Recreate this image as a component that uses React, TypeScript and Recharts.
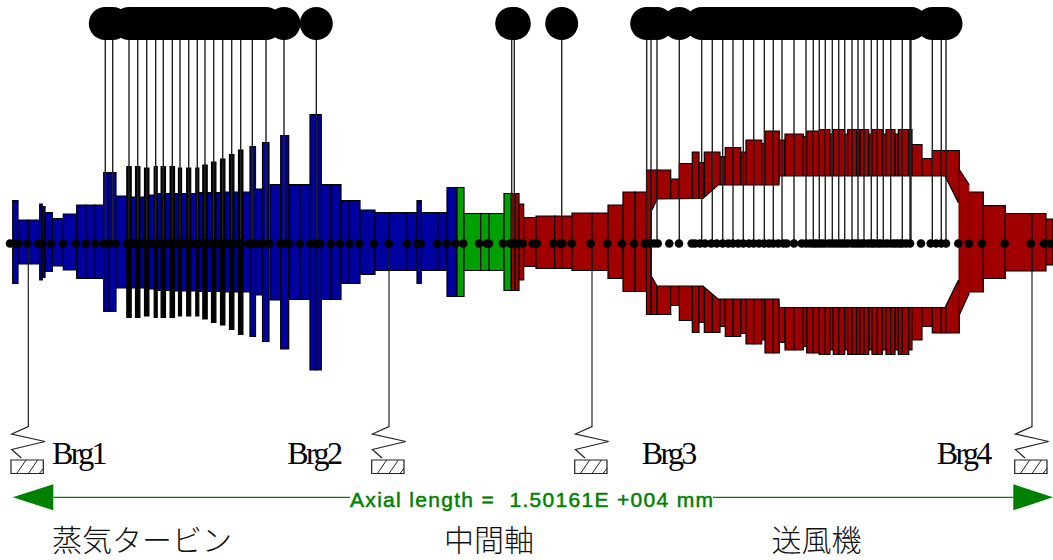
import React from 'react';
import { ComposedChart, XAxis, YAxis, Area, Line, Scatter, ReferenceArea } from 'recharts';

type Sec = [number, number, number, number]; // axial start, axial end, outer radius up, outer radius down

const blueSections: Sec[] = [
  [12.7,18,43,-40],[18,28.3,23.5,-20.5],[28.3,39.7,23.5,-20.5],[39.7,42.3,39.5,-36.5],[42.3,45,37,-34],
  [45,52.3,31,-28],[52.3,63.3,25,-22.5],[63.3,76.7,29.5,-26.5],[76.7,86,38.5,-35],[86,95.3,38.5,-35],
  [95.3,103.7,38.5,-35],[103.7,109.3,71,-68],[109.3,116,71,-68],[116,129,47.5,-44.5],[129,146,46.5,-44.5],
  [146,155,48.5,-45.5],[155,172,50,-47],[172,197,50,-47.5],[197,222,51,-48],[222,250,51.5,-48.5],
  [255,262,54.5,-51.5],[270,282,59,-56.5],[289,300,59,-56],[300,310,59,-56],[321.3,331,59,-56],[331,341,59,-56],
  [341,349.3,43,-40],[349.3,360,43,-40],[360,375,33.5,-31],[375,389.3,31,-27],[389.3,407.3,31,-27],
  [407.3,438,31,-27],[438,447,31,-27],[447,457,56,-53],
];
const blueDisks: Sec[] = [
  [417,421.3,43,-40],[250,255.5,97,-93],[262.5,269,101,-98],[280.7,288.7,108,-105.5],[310,316,129,-126.5],[316,321.3,129,-126.5],
];
const darkBlades: Sec[] = [
  [126.8,131.2,77,-74],[135.5,139.9,77,-74],[144.5,148.9,75.5,-72.5],[154.2,157.2,77,-74],[161.1,165.5,77,-74],
  [170.1,174.5,77,-74],[178.5,181.5,75.5,-72.5],[186.7,190.7,75.5,-72.5],[195.8,198.8,75.5,-72.5],[202.8,207.2,78.5,-75.5],
  [211.5,215.9,81.5,-79],[220.5,224.9,84.5,-81.5],[229.5,233.9,89,-86],[238.5,242.9,93.5,-91],
];
const greenSections: Sec[] = [
  [457,464,56,-53],[464,480.7,30,-27],[480.7,489.3,30,-27],[489.3,504,30,-27],[504,511.3,50,-47],
];
const redSections: Sec[] = [
  [511.3,515,50,-47],[515,519,50,-47],[519,523.7,39.5,-36.5],[523.7,536,26,-23],[536,554.7,27.5,-25],
  [554.7,561.7,27.5,-25],[561.7,572,27.5,-25],[572,592,30.5,-27],[592,608,30.5,-27],[608,623,38.5,-35],
  [623,635,51.5,-48],[635,646.5,51.5,-48],[646.5,651,73.5,-71],[651,657,73.5,-71],[657,670.7,73.5,-71],
  [670.7,679.3,64.5,-62],[679.3,692.3,80,-77],[692.3,699,91.5,-89],[699,704.3,81,-79],[704.3,712.3,91.5,-89],
  [712.3,720,91.5,-89],[720,725.3,87,-83],[725.3,733,96,-93],[733,740.7,96,-93],[740.7,746,91.5,-90],
  [746,753.7,103.5,-100.5],[753.7,761.7,103.5,-100.5],[761.7,765,100,-96.5],[765,773.3,112.5,-109.5],[773.3,779.3,112.5,-109.5],
  [779.3,785,103.5,-99],[785,794,109.5,-106.5],[794,803.3,109.5,-106.5],[803.3,806.7,107,-103],[806.7,813.3,112.5,-109.5],
  [813.3,819.3,112.5,-109.5],[819.3,825.3,114,-111],[825.3,830,114,-111],[830,833.3,109.5,-106.5],[833.3,838.7,114,-111],
  [838.7,844.7,114,-111],[844.7,847.7,109.5,-106.5],[847.7,852,114,-111],[852,856.7,114,-111],[856.7,860,114,-111],
  [860,864,114,-111],[864,868.7,114,-111],[868.7,872,109.5,-106.5],[872,877.3,114,-111],[877.3,882.3,114,-111],
  [882.3,886,109.5,-106.5],[886,890.7,114,-111],[890.7,895,114,-111],[895,898.3,109.5,-106.5],[898.3,902.3,114,-111],
  [902.3,908.7,114,-111],[908.7,912,114,-106.5],[912,922,99,-96.5],[922,932.3,85,-83],[932.3,941.3,93,-89.5],
  [941.3,946,93,-89.5],[946,959.3,93,-89.5],[969.3,983.3,51.5,-48.5],[983.3,1005.3,37.8,-35],[1005.3,1032,30,-27.5],
  [1032,1046,30,-27.5],[1046,1053,24.5,-21.5],
];
const coneX = [959.3, 969.3];
const coneHi = [74, 58.5];
const coneLo = [-71.5, -49.5];

const cavityX = [652, 657, 703, 718, 779, 779.3, 945, 958.5];
const cavityHi = [33.5, 44.5, 45, 58.5, 58.5, 67.5, 67.5, 40.5];
const cavityLo = [-33.5, -42.5, -42.5, -55.5, -55.5, -64, -64, -36.5];

const stations = [
  105.3,112.7,129,137.7,146.7,155.7,163.3,172.3,180,188.7,197.3,205,213.7,222.7,231.7,240.7,252.3,266,284,316.3,
  511.7,514.3,561.7,646.7,651,657,679.3,
  701.7,712.3,722.7,733,743.3,753.7,764.3,773.3,782,794,806,813.3,819.3,825.3,832.3,838.7,844.7,852,858,864,871.3,877.3,883.3,890.7,902.3,910,911,932.3,941.3,946,
];
const stationBands = [[105.3, 112.7], [129, 252.3], [252.3, 266], [701.7, 911], [932.3, 946]];
const massNodes = [
  10,14,18,27.3,38.3,42.3,51,63,76,85.7,95,103.3,108.3,115.7,126.7,129,133,137.7,142,146.7,151,155.7,159.5,163.3,168,172.3,176,180,184,188.7,193,197.3,201,205,209.5,213.7,218,222.7,227,231.7,236,240.7,248,252.3,258,262.3,269.3,280,284,288.7,299.7,310,316,320,330.7,340,
  349.3,359,373.7,388.7,406.7,417.3,420.7,437.3,446.7,455.7,463.3,479,486.7,489,503,510,513.3,517.7,522.7,532.7,536.7,553.3,560,562.3,571.7,590.7,607.3,622,634,645,650,654,657.7,669.3,679,
  691.7,695,700,705,711.3,716.7,722.7,728.3,733,738.3,743.3,749,753.7,759,764.3,769,773.3,778.3,783.3,786.7,794,801.7,806,810,813.3,816,819.3,822,825.3,829,832.3,835.5,838.7,842,844.7,848,852,855,858,861,864,868,871.3,874,877.3,880,883.3,887,890.7,894,897,900,902.3,906,910,
  921,930.7,936,941.3,946,958.3,969,982,1004.7,1031,1044,1050.7,
];
const bearingX = [28.3, 389, 592, 1032];
const springDx = [0, -16.6, 16.7, -16.6, -7];
const springR = [-183, -190.5, -198, -206, -214.5];
const footDx = [-17.3, 15];
const footR = [-216.5, -230];
const hatchDx = [[-11.6, -2.3], [0, 9.4], [11, 15]];
const hatchR = [[-230, -216.5], [-230, -216.5], [-230, -225]];

const axialY = -253.8;
const arrowHalf = 13;
const dimLeft = [53.3, 350];
const dimRight = [713, 1013.3];
const leftArrowX = [12.7, 53.3];
const rightArrowX = [1013.3, 1053];

const bearingLabels = [
  { x: 52, r: -220.5, t: 'Brg1' },
  { x: 287.3, r: -220.5, t: 'Brg2' },
  { x: 641.7, r: -220.5, t: 'Brg3' },
  { x: 936.7, r: -220.5, t: 'Brg4' },
];
const sectionLabels = [
  { x: 52, r: -307, t: '蒸気タービン' },
  { x: 444, r: -307, t: '中間軸' },
  { x: 771.5, r: -307, t: '送風機' },
];
const axialLabels = [{ x: 350, r: -263.5, t: 'Axial length =  1.50161E +004 mm' }];

const BLUE = '#0000A0';
const GREEN = '#00A000';
const RED = '#A00000';
const EDGE = '#000';
const DIM = '#008000';

const rects = (list: Sec[], fill: string, key: string) =>
  list.map((s, i) => (
    <ReferenceArea key={key + i} x1={s[0]} x2={s[1]} y1={s[3]} y2={s[2]} fill={fill} fillOpacity={1} stroke={EDGE} strokeWidth={1.2} ifOverflow="visible" />
  ));

const coneData = coneX.map((x, i) => ({ x, range: [coneLo[i], coneHi[i]] }));
const cavityData = cavityX.map((x, i) => ({ x, range: [cavityLo[i], cavityHi[i]] }));
const stemData = stations.flatMap((x) => [{ x, r: 220 }, { x, r: 0 }, { x, r: null }]);
const bandData = stationBands.flatMap((b) => [{ x: b[0], r: 220 }, { x: b[1], r: 220 }, { x: b[1], r: null }]);
const bearingRodData = bearingX.flatMap((b) => [
  { x: b, r: 0 },
  ...springDx.map((d, i) => ({ x: b + d, r: springR[i] })),
  { x: b, r: null },
]);
const hatchData = bearingX.flatMap((b) =>
  hatchDx.flatMap((h, i) => [{ x: b + h[0], r: hatchR[i][0] }, { x: b + h[1], r: hatchR[i][1] }, { x: b, r: null }])
);
const dimData = [
  { x: dimLeft[0], r: axialY }, { x: dimLeft[1], r: axialY }, { x: dimLeft[1], r: null },
  { x: dimRight[0], r: axialY }, { x: dimRight[1], r: axialY },
];
const leftArrow = [
  { x: leftArrowX[0], range: [axialY, axialY] },
  { x: leftArrowX[1], range: [axialY - arrowHalf, axialY + arrowHalf] },
];
const rightArrow = [
  { x: rightArrowX[0], range: [axialY - arrowHalf, axialY + arrowHalf] },
  { x: rightArrowX[1], range: [axialY, axialY] },
];
const upperNodes = stations.map((x) => ({ x, r: 220 }));
const centreNodes = massNodes.map((x) => ({ x, r: 0 }));

const textShape = (style: React.SVGProps<SVGTextElement>) => (p: any) => (
  <text x={p.cx} y={p.cy} style={{ whiteSpace: 'pre' }} {...style}>{p.payload.t}</text>
);

export default function App() {
  return (
    <div style={{ position: 'absolute', left: 0, top: 0, width: 1053, height: 560, background: '#fff' }}>
      <ComposedChart width={1053} height={560} margin={{ top: 0, right: 0, bottom: 0, left: 0 }}>
        <XAxis dataKey="x" type="number" domain={[0, 1053]} hide allowDataOverflow />
        <YAxis type="number" domain={[-316.5, 243.5]} hide allowDataOverflow width={0} />
        {rects(blueSections, BLUE, 'b')}
        {rects(blueDisks, BLUE, 'd')}
        {rects(darkBlades, '#000', 'k')}
        {rects(greenSections, GREEN, 'g')}
        {rects(redSections, RED, 'r')}
        <Area data={coneData} dataKey="range" type="linear" fill={RED} fillOpacity={1} stroke={EDGE} strokeWidth={1.2} dot={false} activeDot={false} isAnimationActive={false} />
        <Area data={cavityData} dataKey="range" type="linear" fill="#fff" fillOpacity={1} stroke={EDGE} strokeWidth={1.2} dot={false} activeDot={false} isAnimationActive={false} />
        {bearingX.map((b, i) => (
          <ReferenceArea key={'f' + i} x1={b + footDx[0]} x2={b + footDx[1]} y1={footR[1]} y2={footR[0]} fill="#fff" fillOpacity={1} stroke="#222" strokeWidth={1.2} ifOverflow="visible" />
        ))}
        <Line data={stemData} dataKey="r" type="linear" stroke="#222" strokeWidth={1.4} dot={false} activeDot={false} connectNulls={false} isAnimationActive={false} />
        <Line data={bandData} dataKey="r" type="linear" stroke="#000" strokeWidth={33} dot={false} activeDot={false} connectNulls={false} isAnimationActive={false} />
        <Line data={bearingRodData} dataKey="r" type="linear" stroke="#222" strokeWidth={1.2} dot={false} activeDot={false} connectNulls={false} isAnimationActive={false} />
        <Line data={hatchData} dataKey="r" type="linear" stroke="#222" strokeWidth={1} dot={false} activeDot={false} connectNulls={false} isAnimationActive={false} />
        <Line data={dimData} dataKey="r" type="linear" stroke={DIM} strokeWidth={1.3} dot={false} activeDot={false} connectNulls={false} isAnimationActive={false} />
        <Area data={leftArrow} dataKey="range" type="linear" fill={DIM} fillOpacity={1} stroke="none" dot={false} activeDot={false} isAnimationActive={false} />
        <Area data={rightArrow} dataKey="range" type="linear" fill={DIM} fillOpacity={1} stroke="none" dot={false} activeDot={false} isAnimationActive={false} />
        <Scatter data={upperNodes} dataKey="r" fill="#000" isAnimationActive={false} shape={(p: any) => <circle cx={p.cx} cy={p.cy} r={16.5} fill="#000" />} />
        <Scatter data={centreNodes} dataKey="r" fill="#000" isAnimationActive={false} shape={(p: any) => <circle cx={p.cx} cy={p.cy} r={4.3} fill="#000" />} />
        <Scatter data={bearingLabels} dataKey="r" isAnimationActive={false} shape={textShape({ fontFamily: 'Liberation Serif', fontSize: 32, letterSpacing: -2.6, fill: '#000' })} />
        <Scatter data={sectionLabels} dataKey="r" isAnimationActive={false} shape={textShape({ fontFamily: 'Noto Sans CJK JP', fontSize: 30, fontWeight: 300, fill: '#111' })} />
        <Scatter data={axialLabels} dataKey="r" isAnimationActive={false} shape={textShape({ fontFamily: 'Liberation Sans', fontSize: 21, fontWeight: 400, fill: DIM, stroke: DIM, strokeWidth: 0.5, textLength: 363 })} />
      </ComposedChart>
    </div>
  );
}
